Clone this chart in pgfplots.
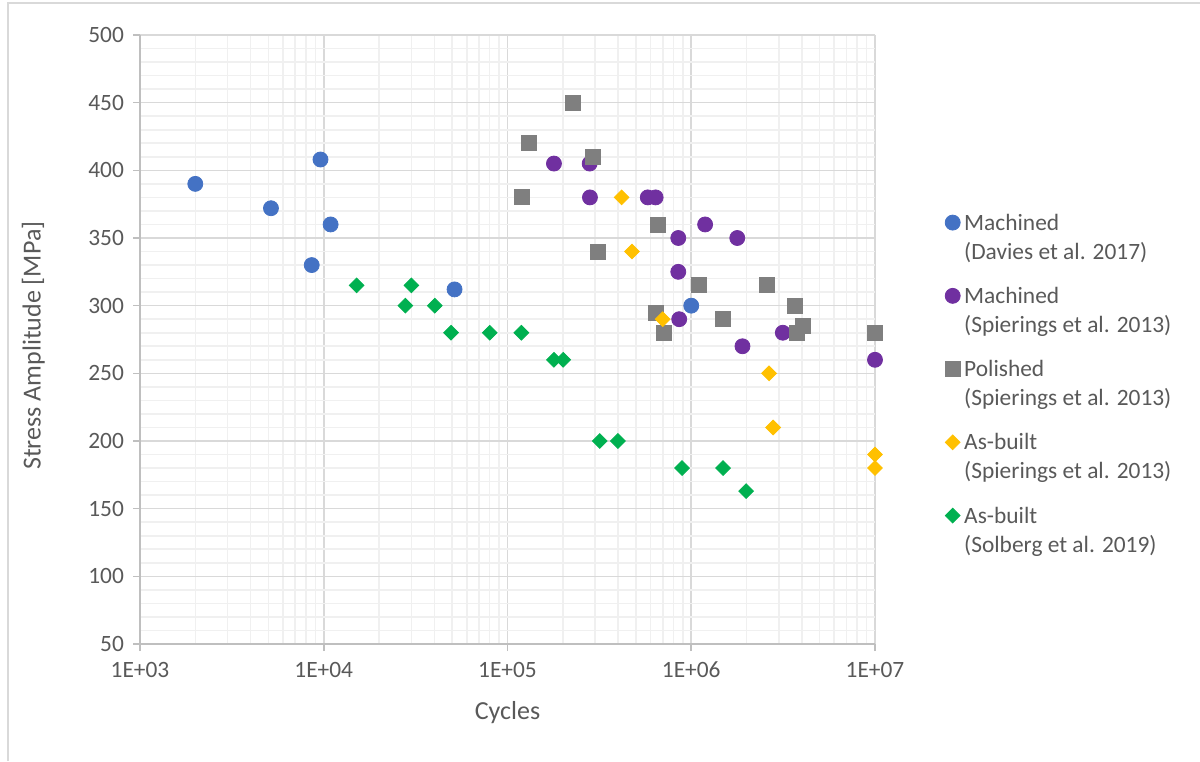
\documentclass[border=0pt]{standalone}
\usepackage{pgfplots}
\pgfplotsset{compat=1.18}
\usepackage{fontspec}
\setmainfont{Carlito}
\definecolor{cBlue}{HTML}{4472C4}
\definecolor{cPurple}{HTML}{7030A0}
\definecolor{cGray}{HTML}{7F7F7F}
\definecolor{cYellow}{HTML}{FFC000}
\definecolor{cGreen}{HTML}{00B050}
\definecolor{txt}{HTML}{595959}
\definecolor{majgrid}{HTML}{D9D9D9}
\definecolor{mingrid}{HTML}{F0F0F0}
\definecolor{axline}{HTML}{BFBFBF}
\begin{document}
\begin{tikzpicture}[x=1pt,y=1pt]
\path[use as bounding box] (0,0) rectangle (600,380.5);
\draw[majgrid,line width=1pt] (4,0) -- (4,379) -- (600,379);
\begin{axis}[
  at={(70pt,58.5pt)}, anchor=south west,
  scale only axis, width=367.5pt, height=304.5pt,
  xmode=log, xmin=1e3, xmax=1e7,
  ymin=50, ymax=500,
  ytick={50,100,...,500},
  minor y tick num=4,
  xtick={1e3,1e4,1e5,1e6,1e7},
  xticklabels={1E+03,1E+04,1E+05,1E+06,1E+07},
  /pgf/number format/assume math mode=true,
  axis x line=bottom, axis y line=left,
  axis line style={-, draw=axline, line width=0.8pt},
  tick align=outside,
  major tick length=3.5pt, minor tick length=0pt,
  major tick style={draw=axline, line width=0.8pt},
  grid=both,
  major grid style={draw=majgrid, line width=0.8pt},
  minor grid style={draw=mingrid, line width=0.8pt},
  ticklabel style={font=\fontsize{11.7}{14}\selectfont, text=txt},
  yticklabel style={xshift=-1pt},
  xticklabel style={yshift=-2pt},
  xlabel={Cycles}, ylabel={Stress Amplitude [MPa]},
  label style={font=\fontsize{13}{15}\selectfont, text=txt},
  xlabel style={at={(axis description cs:0.5,-0.113)}, anchor=center},
  ylabel style={at={(axis description cs:-0.145,0.49)}, anchor=center},
  clip=false,
  legend style={draw=none, fill=none, at={(axis description cs:1.095,0.426)}, anchor=west,
    font=\fontsize{11.7}{14.5}\selectfont, text=txt, row sep=8.5pt,
    cells={align=left, anchor=base west}, inner sep=0pt},
  legend image code/.code={\draw[mark repeat=1,#1] plot coordinates {(3.5pt,18.3pt)};},
]
\addplot[only marks, mark=*, mark size=3.75pt, draw=cBlue, fill=cBlue] coordinates {
(2000,390) (5160,372) (9600,408) (10900,360) (8600,330) (51500,312) (1e6,300)};
\addlegendentry{Machined\\(Davies et al. 2017)}
\addplot[only marks, mark=*, mark size=3.75pt, draw=cPurple, fill=cPurple] coordinates {
(179000,405) (280000,405) (281000,380) (580000,380) (640000,380) (1.19e6,360) (850000,350)
(1.78e6,350) (850000,325) (860000,290) (3.15e6,280) (1.9e6,270) (1e7,260)};
\addlegendentry{Machined\\(Spierings et al. 2013)}
\addplot[only marks, mark=square*, mark size=3.75pt, draw=cGray, fill=cGray] coordinates {
(228000,450) (130000,420) (290000,410) (120000,380) (656000,360) (310000,340) (1.1e6,315)
(2.57e6,315) (3.65e6,300) (646000,295) (1.49e6,290) (4.03e6,285) (711000,280) (3.78e6,280) (1e7,280)};
\addlegendentry{Polished\\(Spierings et al. 2013)}
\addplot[only marks, mark=square*, mark size=2.6pt, mark options={rotate=45}, draw=cYellow, fill=cYellow] coordinates {
(418000,380) (476000,340) (699000,290) (2.65e6,250) (2.79e6,210) (1e7,190) (1e7,180)};
\addlegendentry{As-built\\(Spierings et al. 2013)}
\addplot[only marks, mark=square*, mark size=2.6pt, mark options={rotate=45}, draw=cGreen, fill=cGreen] coordinates {
(15100,315) (30000,315) (27800,300) (40200,300) (49300,280) (80000,280) (119000,280)
(179000,260) (201000,260) (318000,200) (399000,200) (891000,180) (1.49e6,180) (1.99e6,163)};
\addlegendentry{As-built\\(Solberg et al. 2019)}
\end{axis}
\end{tikzpicture}
\end{document}
